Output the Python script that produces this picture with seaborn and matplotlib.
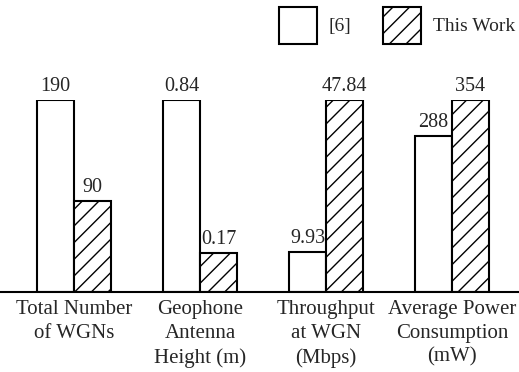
import matplotlib
matplotlib.use("Agg")
import matplotlib.pyplot as plt
from matplotlib.patches import Patch
import numpy as np
import pandas as pd
import seaborn as sns

# ── Data ─────────────────────────────────────────────────────
metrics = [
    "Total Number\nof WGNs",
    "Geophone\nAntenna\nHeight (m)",
    "Throughput\nat WGN\n(Mbps)",
    "Average Power\nConsumption\n(mW)",
]
sources = ["[6]", "This Work"]
ref6_values = [190, 0.84, 9.93, 288]
this_work_values = [90, 0.17, 47.84, 354]
ref6_labels = ["190", "0.84", "9.93", "288"]
this_work_labels = ["90", "0.17", "47.84", "354"]

# bars are scaled so the larger value in each group reaches the top
group_max = np.maximum(ref6_values, this_work_values)
df = pd.DataFrame({
    "metric": metrics * 2,
    "source": [sources[0]] * 4 + [sources[1]] * 4,
    "norm": list(np.array(ref6_values) / group_max)
            + list(np.array(this_work_values) / group_max),
})

sns.set_theme(style="white")
plt.rcParams["font.family"] = ["Liberation Serif", "DejaVu Serif"]
plt.rcParams["hatch.linewidth"] = 1.0

fig = plt.figure(figsize=(5.19, 3.72), dpi=100)
ax = fig.add_axes([0.0, 80 / 372, 1.0, 192 / 372])

sns.barplot(
    data=df, x="metric", y="norm", hue="source",
    palette=["white", "white"], edgecolor="black", linewidth=1.5,
    width=0.587, gap=0, legend=False, ax=ax,
)

for bar in ax.containers[1]:
    bar.set_hatch("//")

ax.bar_label(ax.containers[0], labels=ref6_labels, padding=3, fontsize=14.5)
ax.bar_label(ax.containers[1], labels=this_work_labels, padding=3, fontsize=14.5)

ax.set_xlim(-0.587, 3.532)
ax.set_ylim(0, 1)
ax.set_xlabel("")
ax.set_ylabel("")
ax.set_yticks([])
ax.tick_params(axis="x", length=0, pad=6, labelsize=15)
for lbl in ax.get_xticklabels():
    lbl.set_linespacing(1.33)
for side in ["left", "right", "top"]:
    ax.spines[side].set_visible(False)
ax.spines["bottom"].set_color("black")
ax.spines["bottom"].set_linewidth(1.5)

handles = [
    Patch(facecolor="white", edgecolor="black", linewidth=1.5, label=sources[0]),
    Patch(facecolor="white", edgecolor="black", linewidth=1.5, hatch="//", label=sources[1]),
]
fig.legend(
    handles=handles, loc="upper right", bbox_to_anchor=(1.0, 1.0 - 3 / 372),
    ncol=2, frameon=False, fontsize=14, handlelength=1.95, handleheight=2.57,
    handletextpad=0.6, columnspacing=1.65, borderaxespad=0.0, borderpad=0.2,
)

fig.savefig("out.png", dpi=100)
